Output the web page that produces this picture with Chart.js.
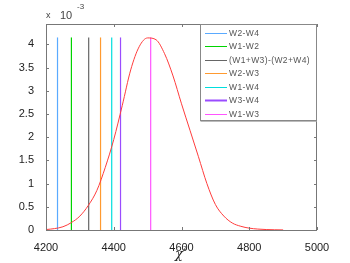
<!DOCTYPE html>
<html>
<head>
<meta charset="utf-8">
<script src="https://cdn.jsdelivr.net/npm/chart.js@4"></script>
<style>
  html, body { margin: 0; padding: 0; background: #fff; }
</style>
</head>
<body>
<canvas id="chi" width="350" height="263"></canvas>
<script>
// curve values are in units of 10^-3
const curveX = [4200, 4225, 4250, 4275, 4300, 4325, 4350, 4375, 4400, 4425, 4450, 4475, 4500,
                4525, 4550, 4575, 4600, 4625, 4650, 4675, 4700, 4725, 4750, 4775, 4800, 4825,
                4850, 4875, 4900];
const curveY = [0.01, 0.03, 0.07, 0.16, 0.30, 0.53, 0.85, 1.35, 1.95, 2.68, 3.45, 3.95, 4.14,
                4.10, 3.80, 3.32, 2.72, 2.15, 1.58, 1.00, 0.55, 0.30, 0.15, 0.08, 0.04, 0.02,
                0.01, 0.005, 0.002];

const lineNames = ["W2-W4", "W1-W2", "(W1+W3)-(W2+W4)", "W2-W3", "W1-W4", "W3-W4", "W1-W3"];
const linePos = [4234, 4275, 4326, 4361, 4394, 4420, 4509];
const lineTop = 4.15;
const lineColors = ["#5aaaff", "#00d400", "#666666", "#ff9a30", "#00dede", "#9a4cff", "#ff55ff"];

const xTicks = [4200, 4400, 4600, 4800, 5000];
const yTicks = [0, 0.5, 1, 1.5, 2, 2.5, 3, 3.5, 4];

const datasets = [{
    label: "chi2",
    data: curveX.map((x, i) => ({ x: x, y: curveY[i] })),
    borderColor: "#ff3c3c",
    borderWidth: 1,
    pointRadius: 0,
    cubicInterpolationMode: "monotone"
}];
lineNames.forEach((name, i) => {
    datasets.push({
        label: name,
        data: [{ x: linePos[i], y: 0 }, { x: linePos[i], y: lineTop }],
        borderColor: lineColors[i],
        borderWidth: 1.2,
        pointRadius: 0
    });
});

// frame, inward ticks, legend box, exponent and axis title
const decorations = {
    id: "decorations",
    afterDraw(chart) {
        const ctx = chart.ctx;
        const a = chart.chartArea;
        const xs = chart.scales.x, ys = chart.scales.y;
        ctx.save();
        ctx.strokeStyle = "#777";
        ctx.lineWidth = 1;
        ctx.strokeRect(a.left + 0.5, a.top + 0.5, a.right - a.left - 1, a.bottom - a.top);

        ctx.beginPath();
        xTicks.forEach(v => {
            const px = Math.round(xs.getPixelForValue(v)) + 0.5;
            ctx.moveTo(px, a.bottom); ctx.lineTo(px, a.bottom - 3);
            ctx.moveTo(px, a.top); ctx.lineTo(px, a.top + 3);
        });
        yTicks.forEach(v => {
            const py = Math.round(ys.getPixelForValue(v)) + 0.5;
            ctx.moveTo(a.left, py); ctx.lineTo(a.left + 3, py);
            ctx.moveTo(a.right, py); ctx.lineTo(a.right - 3, py);
        });
        ctx.stroke();

        // legend
        const lx = 200.5, ly = a.top + 0.5, lw = a.right - 200.5 - 0.5, lh = 96;
        ctx.fillStyle = "#fff";
        ctx.fillRect(lx, ly, lw, lh);
        ctx.strokeStyle = "#888";
        ctx.strokeRect(lx, ly, lw, lh);
        ctx.strokeStyle = "#bbb";
        ctx.beginPath();
        ctx.moveTo(lx, ly + lh + 1); ctx.lineTo(lx + lw, ly + lh + 1);
        ctx.stroke();
        ctx.font = "8.5px 'Liberation Sans', Arial, sans-serif";
        ctx.letterSpacing = "0.4px";
        ctx.textBaseline = "middle";
        ctx.textAlign = "left";
        lineNames.forEach((name, i) => {
            const y = Math.round(33 + i * 13.45) + 0.5;
            ctx.strokeStyle = lineColors[i];
            ctx.lineWidth = i === 5 ? 2 : 1;
            ctx.beginPath();
            ctx.moveTo(205, y); ctx.lineTo(227, y);
            ctx.stroke();
            ctx.fillStyle = "#555";
            ctx.fillText(name, 229, y + 0.5);
        });
        ctx.letterSpacing = "0px";

        // exponent label
        ctx.fillStyle = "#444";
        ctx.font = "9px 'Liberation Sans', Arial, sans-serif";
        ctx.fillText("x", 46, 16);
        ctx.font = "11px 'Liberation Sans', Arial, sans-serif";
        ctx.fillText("10", 60, 16);
        ctx.font = "8px 'Liberation Sans', Arial, sans-serif";
        ctx.fillText("-3", 77, 7);

        // x axis title
        ctx.fillStyle = "#222";
        ctx.textAlign = "center";
        ctx.font = "italic 13px 'DejaVu Serif', serif";
        ctx.fillText("\u03c7", 179, 255);
        ctx.font = "6px 'Liberation Sans', Arial, sans-serif";
        ctx.fillText("2", 185, 248);
        ctx.restore();
    }
};

new Chart(document.getElementById("chi"), {
    type: "line",
    data: { datasets: datasets },
    options: {
        responsive: false,
        animation: false,
        layout: { padding: { top: 24, right: 33, left: 0, bottom: 0 } },
        plugins: { legend: { display: false }, tooltip: { enabled: false } },
        scales: {
            x: {
                type: "linear",
                min: 4200,
                max: 5000,
                afterBuildTicks: s => { s.ticks = xTicks.map(v => ({ value: v })); },
                afterFit: s => { s.height = 33; },
                grid: { display: false },
                border: { display: false },
                ticks: {
                    color: "#222",
                    font: { family: "'Liberation Sans', Arial, sans-serif", size: 11 },
                    padding: 3,
                    maxRotation: 0,
                    callback: v => String(v)
                }
            },
            y: {
                min: 0,
                max: 4.44,
                afterBuildTicks: s => { s.ticks = yTicks.map(v => ({ value: v })); },
                afterFit: s => { s.width = 46; },
                grid: { display: false },
                border: { display: false },
                ticks: {
                    color: "#222",
                    font: { family: "'Liberation Sans', Arial, sans-serif", size: 11 },
                    padding: 4,
                    callback: v => String(v)
                }
            }
        }
    },
    plugins: [decorations]
});
</script>
</body>
</html>
